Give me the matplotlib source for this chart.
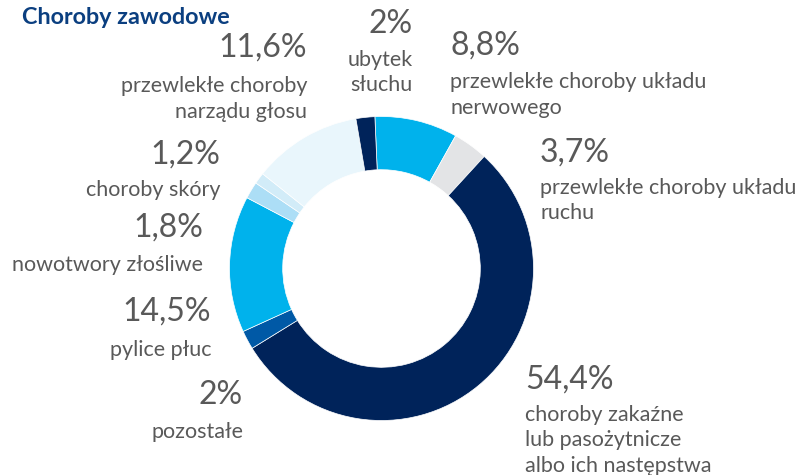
import matplotlib.pyplot as plt

# Data
categories = [
    "przewlekłe choroby układu\nnerwowego",
    "przewlekłe choroby układu\nruchu",
    "choroby zakaźne\nlub pasożytnicze\nalbo ich następstwa",
    "pozostałe",
    "pylice płuc",
    "nowotwory złośliwe",
    "choroby skóry",
    "przewlekłe choroby\nnarządu głosu",
    "ubytek\nsłuchu",
]
values = [8.8, 3.7, 54.4, 2.0, 14.5, 1.8, 1.2, 11.6, 2.0]
pct_labels = ["8,8%", "3,7%", "54,4%", "2%", "14,5%", "1,8%", "1,2%", "11,6%", "2%"]

colors = ["#00b2ec", "#e3e4e6", "#00235a", "#0059a6", "#00b2ec",
          "#acdef6", "#d2ecf8", "#e9f6fc", "#00235a"]

# label placement in pixels: (x, y of percent, y of first text line, ha)
label_pos = [
    (450, 46, 82, "left"),
    (540, 153, 188, "left"),
    (525, 380, 415, "left"),
    (243, 395, 432, "right"),
    (211, 312, 350, "right"),
    (203, 228, 265, "right"),
    (220, 155, 190, "right"),
    (307, 48, 86, "right"),
    (413, 24, 60, "right"),
]

W, H = 805, 475
plt.rcParams["font.family"] = ["Lato", "DejaVu Sans"]
fig = plt.figure(figsize=(W / 100, H / 100), dpi=100)

# donut
cx, cy, r = 381.5, 268.5, 152
ax = fig.add_axes([(cx - r) / W, (H - cy - r) / H, 2 * r / W, 2 * r / H])
ax.pie(values, colors=colors, startangle=92.5, counterclock=False,
       radius=1, wedgeprops=dict(width=0.35, edgecolor="white", linewidth=0.5))
ax.set_xlim(-1, 1)
ax.set_ylim(-1, 1)
ax.set_aspect("equal")
ax.axis("off")

fig.text(22 / W, 1 - 17 / H, "Choroby zawodowe", fontsize=16.8, fontweight="bold",
         color="#0b3f80", ha="left", va="center")

gray = "#595959"
for cat, pct, (x, yp, yl, ha) in zip(categories, pct_labels, label_pos):
    fig.text(x / W, 1 - yp / H, pct, fontsize=23, color=gray, ha=ha, va="center")
    for i, line in enumerate(cat.split("\n")):
        fig.text(x / W, 1 - (yl + i * 25.5) / H, line, fontsize=15.5, color=gray,
                 ha=ha, va="center")

fig.savefig("out.png", dpi=100)
